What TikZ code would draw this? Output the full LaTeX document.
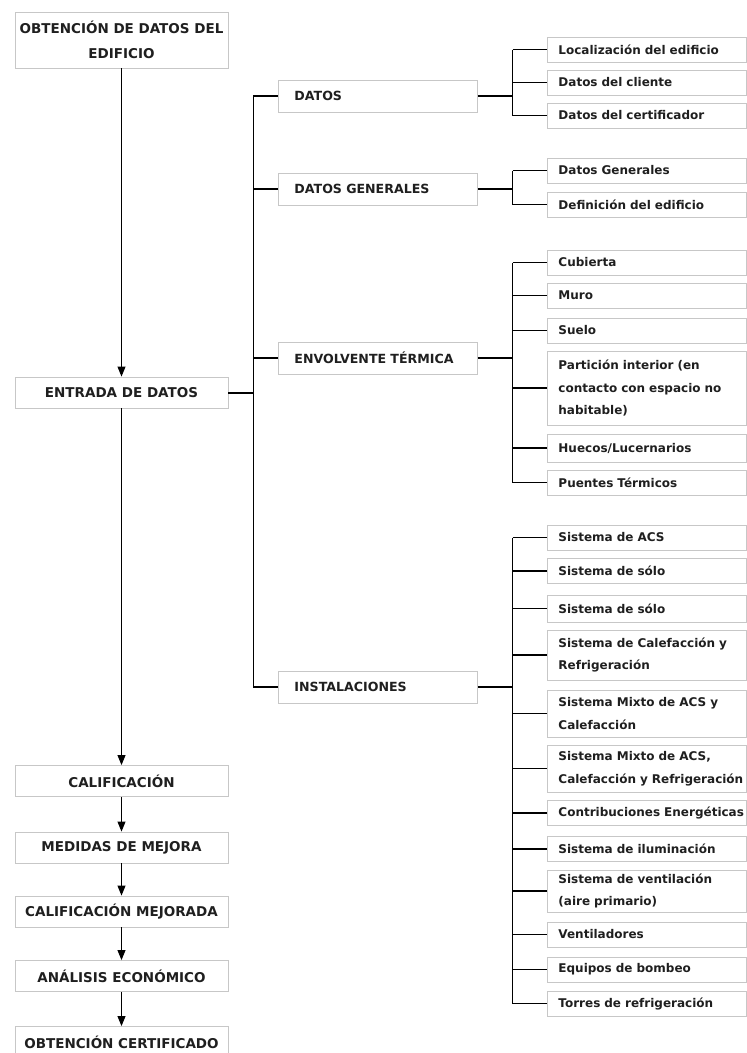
\documentclass[tikz,border=0pt]{standalone}
\usepackage{fontspec}
\setmainfont{DejaVu Sans}
\usetikzlibrary{arrows.meta}
\def\rama{\draw[rama]}
\def\grueso{\draw[grueso]}

\begin{document}
\begin{tikzpicture}[x=1pt,y=-1pt,
  caja/.style={draw=black!22,line width=0.9pt,fill=white,text=black!88},
  paso/.style={caja,minimum width=213pt,minimum height=31pt,align=center,font=\fontsize{13.5}{25}\selectfont\bfseries},
  grupo/.style={caja,anchor=west,text width=167pt,inner xsep=16pt,minimum height=32pt,align=left,font=\fontsize{12.6}{22}\selectfont\bfseries},
  hoja/.style={caja,anchor=west,text width=177pt,inner xsep=11pt,minimum height=25pt,align=left,font=\fontsize{12}{22.5}\selectfont\bfseries},
  flecha/.style={-{Triangle[length=10pt,width=8pt]},line width=1pt},
  rama/.style={line width=1.1pt},
  grueso/.style={line width=2pt}]
\useasboundingbox (0,0) rectangle (747,1053);

% columna izquierda
\node[paso,minimum height=56pt] (obt) at (121.5,40) {OBTENCIÓN DE DATOS DEL\\EDIFICIO};
\node[paso] (entrada) at (121.5,392.5) {ENTRADA DE DATOS};
\node[paso] (calif) at (121.5,781) {CALIFICACIÓN};
\node[paso] (medidas) at (121.5,847.5) {MEDIDAS DE MEJORA};
\node[paso] (califm) at (121.5,911.5) {CALIFICACIÓN MEJORADA};
\node[paso] (analisis) at (121.5,976) {ANÁLISIS ECONÓMICO};
\node[paso] (cert) at (121.5,1042) {OBTENCIÓN CERTIFICADO};

% columna central
\node[grupo] (datos) at (278,96) {DATOS};
\node[grupo] (dgen) at (278,189) {DATOS GENERALES};
\node[grupo] (envol) at (278,358) {ENVOLVENTE TÉRMICA};
\node[grupo] (inst) at (278,687) {INSTALACIONES};

% columna derecha
\node[hoja] (loc) at (547,49.5) {Localización del edificio};
\node[hoja] (cli) at (547,82.5) {Datos del cliente};
\node[hoja] (cer) at (547,115.5) {Datos del certificador};
\node[hoja] (dg) at (547,170.5) {Datos Generales};
\node[hoja] (def) at (547,204.5) {Definición del edificio};
\node[hoja] (cub) at (547,262.5) {Cubierta};
\node[hoja] (muro) at (547,295.5) {Muro};
\node[hoja] (suelo) at (547,330.5) {Suelo};
\node[hoja,minimum height=74pt] (part) at (547,388) {Partición interior (en\\contacto con espacio no\\habitable)};
\node[hoja,minimum height=28pt] (hue) at (547,448) {Huecos/Lucernarios};
\node[hoja] (pue) at (547,482.5) {Puentes Térmicos};
\node[hoja] (acs) at (547,537.5) {Sistema de ACS};
\node[hoja] (solo1) at (547,571) {Sistema de sólo};
\node[hoja,minimum height=27pt] (solo2) at (547,608.5) {Sistema de sólo};
\node[hoja,minimum height=50pt] (calref) at (547,655) {Sistema de Calefacción y\\Refrigeración};
\node[hoja,minimum height=47pt] (mix1) at (547,713.5) {Sistema Mixto de ACS y\\Calefacción};
\node[hoja,minimum height=47pt] (mix2) at (547,768.5) {Sistema Mixto de ACS,\\\mbox{Calefacción y Refrigeración}};
\node[hoja] (contr) at (547,813) {\mbox{Contribuciones Energéticas}};
\node[hoja] (ilum) at (547,849) {Sistema de iluminación};
\node[hoja,minimum height=42pt] (vent) at (547,891) {Sistema de ventilación\\(aire primario)};
\node[hoja] (ventil) at (547,934.5) {Ventiladores};
\node[hoja] (bomb) at (547,969.5) {Equipos de bombeo};
\node[hoja] (torr) at (547,1003.5) {Torres de refrigeración};

% flechas
\foreach \a/\b in {obt/entrada,entrada/calif,calif/medidas,medidas/califm,califm/analisis,analisis/cert}
  \draw[flecha] (\a) -- (\b);

% tronco principal
\grueso (entrada.east) -- ++(25,0) coordinate (tronco);
\rama (tronco |- datos.west) -- (tronco |- inst.west);
\foreach \g in {datos,dgen,envol,inst}
  \rama (tronco |- \g.west) -- (\g.west);

% ramas
\grueso (datos.east) -- ++(35,0) coordinate (jA);
\rama (jA |- loc.west) -- (jA |- cer.west);
\foreach \h in {loc,cli,cer}
  \rama (jA |- \h.west) -- (\h.west);

\grueso (dgen.east) -- ++(35,0) coordinate (jB);
\rama (jB |- dg.west) -- (jB |- def.west);
\foreach \h in {dg,def}
  \rama (jB |- \h.west) -- (\h.west);

\grueso (envol.east) -- ++(35,0) coordinate (jC);
\rama (jC |- cub.west) -- (jC |- pue.west);
\foreach \h in {cub,muro,suelo,part,hue,pue}
  \rama (jC |- \h.west) -- (\h.west);

\grueso (inst.east) -- ++(35,0) coordinate (jD);
\rama (jD |- acs.west) -- (jD |- torr.west);
\foreach \h in {acs,solo1,solo2,calref,mix1,mix2,contr,ilum,vent,ventil,bomb,torr}
  \rama (jD |- \h.west) -- (\h.west);
\end{tikzpicture}
\end{document}
